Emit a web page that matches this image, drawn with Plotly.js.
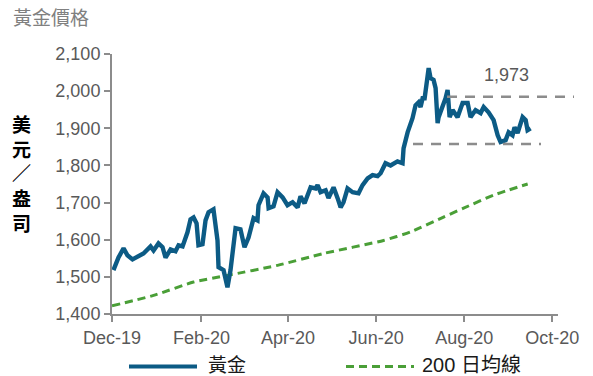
<!DOCTYPE html>
<html>
<head>
<meta charset="utf-8">
<script src="https://cdn.plot.ly/plotly-3.0.1.min.js"></script>
<style>html,body{margin:0;padding:0;background:#fff;}#chart{width:593px;height:376px;}</style>
</head>
<body>
<div id="chart"></div>
<script>
// x values: days since 2019-12-01
const goldDays = [1.0,4.5,8.0,10.7,14.2,17.7,21.8,26.7,28.8,32.2,35.0,37.1,40.6,44.0,46.1,48.9,52.3,54.4,56.5,58.6,59.9,62.7,64.8,66.9,70.3,73.1,73.8,77.3,80.0,82.1,85.6,89.0,91.8,94.6,98.1,100.8,101.5,105.0,107.8,108.5,111.9,114.7,118.2,121.6,125.1,128.6,130.6,133.4,137.6,141.0,142.4,144.5,148.0,150.0,153.5,156.3,158.4,160.4,163.2,166.7,170.8,173.6,177.1,180.5,184.0,186.1,189.5,193.0,197.8,201.3,202.0,204.8,208.2,210.3,212.4,213.8,215.2,216.6,218.0,219.4,220.7,222.8,224.2,225.6,226.3,229.1,231.1,232.5,233.9,236.0,239.4,242.9,246.4,248.4,251.9,255.4,257.5,260.9,264.4,267.2,269.2,272.7,274.8,277.5,278.9,281.0,284.5,286.6,287.9,290.0];
const goldPrice = [1518,1552,1577,1558,1547,1555,1563,1582,1571,1590,1580,1552,1574,1569,1585,1582,1620,1655,1660,1644,1585,1588,1652,1674,1682,1598,1526,1518,1472,1518,1631,1628,1580,1606,1658,1652,1693,1725,1714,1685,1690,1728,1714,1693,1701,1687,1717,1698,1741,1738,1747,1728,1733,1712,1741,1712,1687,1701,1738,1728,1725,1747,1765,1774,1771,1779,1806,1800,1811,1806,1846,1889,1927,1962,1970,1957,1981,1981,2024,2062,2035,2030,2008,1914,1930,1957,1981,2003,1930,1949,1930,1968,1968,1930,1949,1941,1957,1943,1922,1881,1863,1868,1889,1881,1903,1887,1930,1922,1895,1900];
const maDays = [0,28.8,56.5,80.0,114.7,146.6,188.1,206.9,229.7,243.6,264.4,288.0];
const maPrice = [1422,1450,1486,1504,1531,1563,1598,1621,1661,1685,1720,1750];
const refLevels = [1985, 1858];
const refLabel = '1,973';
const tickDays = [0,62,122,183,244,305];
const tickLabels = ['Dec-19','Feb-20','Apr-20','Jun-20','Aug-20','Oct-20'];
const yTicks = [1400,1500,1600,1700,1800,1900,2000,2100];
const yTickLabels = ['1,400','1,500','1,600','1,700','1,800','1,900','2,000','2,100'];
const seriesNames = ['黃金','200 日均線'];
const chartTitle = '黃金價格';
const yTitle = '美<br>元<br>／<br>盎<br>司';

const GOLD = '#0c5b85', GREEN = '#4a9f37', GRAY = '#8c8c8c';
const FONT = 'Liberation Sans, Arial, Noto Sans CJK TC, sans-serif';
const CJK = 'Noto Sans CJK TC, Liberation Sans, sans-serif';

const traces = [
  {x: maDays, y: maPrice, type:'scatter', mode:'lines', name: seriesNames[1],
   line:{color:GREEN, width:3, dash:'8px,5px', shape:'spline', smoothing:0.6}, hoverinfo:'skip'},
  {x: goldDays, y: goldPrice, type:'scatter', mode:'lines', name: seriesNames[0],
   line:{color:GOLD, width:4.4, shape:'linear'}, hoverinfo:'skip'}
];

const L = 112, R = 558, T = 54, B = 313.6;
const px2paperX = p => (p - L) / (R - L);
const px2paperY = p => (B - p) / (B - T);

const shapes = [
  {type:'line', xref:'paper', yref:'y', x0:px2paperX(447), x1:px2paperX(574), y0:refLevels[0], y1:refLevels[0],
   line:{color:GRAY, width:2.5, dash:'10px,8px'}},
  {type:'line', xref:'paper', yref:'y', x0:px2paperX(413), x1:px2paperX(541), y0:refLevels[1], y1:refLevels[1],
   line:{color:GRAY, width:2.5, dash:'10px,8px'}},
  // legend samples
  {type:'line', xref:'paper', yref:'paper', x0:px2paperX(129), x1:px2paperX(197), y0:px2paperY(366), y1:px2paperY(366),
   line:{color:GOLD, width:4}},
  {type:'line', xref:'paper', yref:'paper', x0:px2paperX(346), x1:px2paperX(414), y0:px2paperY(366), y1:px2paperY(366),
   line:{color:GREEN, width:3, dash:'8px,5px'}}
];

const annotations = [
  {xref:'paper', yref:'y', x:px2paperX(506), y:refLevels[0], xanchor:'center', yanchor:'middle', yshift:22, text:refLabel, showarrow:false,
   font:{family:FONT, size:18, color:'#595959'}},
  {xref:'paper', yref:'paper', x:px2paperX(21), y:px2paperY(173), xanchor:'center', yanchor:'middle', text:yTitle, showarrow:false,
   font:{family:CJK, size:19, color:'#000000', weight:'bold'}, align:'center'},
  {xref:'paper', yref:'paper', x:px2paperX(206), y:px2paperY(365), xanchor:'left', yanchor:'middle', text:seriesNames[0], showarrow:false,
   font:{family:FONT, size:19, color:'#1a1a1a'}},
  {xref:'paper', yref:'paper', x:px2paperX(420), y:px2paperY(365), xanchor:'left', yanchor:'middle', text:seriesNames[1], showarrow:false,
   font:{family:FONT, size:20, color:'#1a1a1a'}}
];

const layout = {
  width:593, height:376,
  margin:{l:L, r:593-R, t:T, b:376-B, pad:0},
  paper_bgcolor:'#ffffff', plot_bgcolor:'#ffffff',
  showlegend:false,
  title:{text:chartTitle, xref:'container', yref:'container', x:13/593, xanchor:'left', y:1-18/376, yanchor:'middle',
         font:{family:CJK, size:19, color:'#808080'}},
  xaxis:{range:[0,309], tickmode:'array', tickvals:tickDays, ticktext:tickLabels,
         showgrid:false, zeroline:false, showline:true, linecolor:GRAY, linewidth:2,
         ticks:'outside', ticklen:6, tickwidth:2, tickcolor:GRAY,
         tickfont:{family:FONT, size:18, color:'#595959'}, fixedrange:true},
  yaxis:{range:[1400,2100], tickmode:'array', tickvals:yTicks, ticktext:yTickLabels,
         showgrid:false, zeroline:false, showline:true, linecolor:GRAY, linewidth:2,
         ticks:'outside', ticklen:6, tickwidth:2, tickcolor:GRAY,
         tickfont:{family:FONT, size:18, color:'#595959'}, fixedrange:true},
  shapes: shapes,
  annotations: annotations
};

Plotly.newPlot('chart', traces, layout, {staticPlot:true, displayModeBar:false});
</script>
</body>
</html>
